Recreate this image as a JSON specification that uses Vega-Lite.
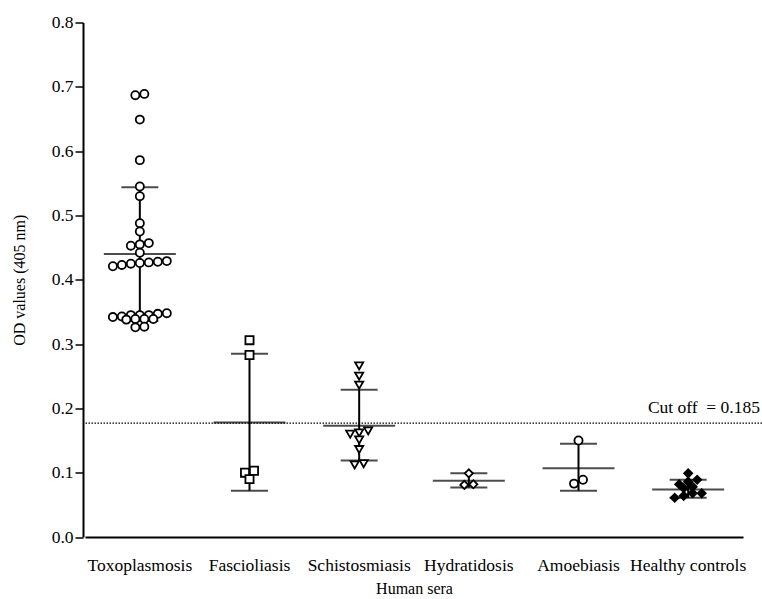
{
  "$schema": "https://vega.github.io/schema/vega-lite/v6.json",
  "width": 679,
  "height": 514.5,
  "autosize": {"type": "none"},
  "padding": {"left": 83, "top": 22.5, "right": 0, "bottom": 62},
  "background": "white",
  "config": {
    "view": {"stroke": null},
    "font": "Liberation Serif",
    "axis": {
      "grid": false,
      "domainColor": "black",
      "tickColor": "black",
      "labelColor": "black",
      "titleColor": "black",
      "labelFont": "Liberation Serif",
      "titleFont": "Liberation Serif",
      "titleFontWeight": "normal"
    }
  },
  "datasets": {
    "pts": [
      {"group": "Toxoplasmosis", "value": 0.687},
      {"group": "Toxoplasmosis", "value": 0.689},
      {"group": "Toxoplasmosis", "value": 0.649},
      {"group": "Toxoplasmosis", "value": 0.586},
      {"group": "Toxoplasmosis", "value": 0.545},
      {"group": "Toxoplasmosis", "value": 0.530},
      {"group": "Toxoplasmosis", "value": 0.488},
      {"group": "Toxoplasmosis", "value": 0.475},
      {"group": "Toxoplasmosis", "value": 0.457},
      {"group": "Toxoplasmosis", "value": 0.453},
      {"group": "Toxoplasmosis", "value": 0.455},
      {"group": "Toxoplasmosis", "value": 0.442},
      {"group": "Toxoplasmosis", "value": 0.428},
      {"group": "Toxoplasmosis", "value": 0.425},
      {"group": "Toxoplasmosis", "value": 0.421},
      {"group": "Toxoplasmosis", "value": 0.423},
      {"group": "Toxoplasmosis", "value": 0.426},
      {"group": "Toxoplasmosis", "value": 0.429},
      {"group": "Toxoplasmosis", "value": 0.427},
      {"group": "Toxoplasmosis", "value": 0.347},
      {"group": "Toxoplasmosis", "value": 0.343},
      {"group": "Toxoplasmosis", "value": 0.342},
      {"group": "Toxoplasmosis", "value": 0.345},
      {"group": "Toxoplasmosis", "value": 0.345},
      {"group": "Toxoplasmosis", "value": 0.345},
      {"group": "Toxoplasmosis", "value": 0.348},
      {"group": "Toxoplasmosis", "value": 0.339},
      {"group": "Toxoplasmosis", "value": 0.339},
      {"group": "Toxoplasmosis", "value": 0.338},
      {"group": "Toxoplasmosis", "value": 0.339},
      {"group": "Toxoplasmosis", "value": 0.327},
      {"group": "Toxoplasmosis", "value": 0.326},
      {"group": "Fascioliasis", "value": 0.306},
      {"group": "Fascioliasis", "value": 0.283},
      {"group": "Fascioliasis", "value": 0.103},
      {"group": "Fascioliasis", "value": 0.100},
      {"group": "Fascioliasis", "value": 0.090},
      {"group": "Schistosmiasis", "value": 0.266},
      {"group": "Schistosmiasis", "value": 0.250},
      {"group": "Schistosmiasis", "value": 0.236},
      {"group": "Schistosmiasis", "value": 0.165},
      {"group": "Schistosmiasis", "value": 0.162},
      {"group": "Schistosmiasis", "value": 0.160},
      {"group": "Schistosmiasis", "value": 0.151},
      {"group": "Schistosmiasis", "value": 0.136},
      {"group": "Schistosmiasis", "value": 0.114},
      {"group": "Schistosmiasis", "value": 0.112},
      {"group": "Hydratidosis", "value": 0.099},
      {"group": "Hydratidosis", "value": 0.082},
      {"group": "Hydratidosis", "value": 0.081},
      {"group": "Amoebiasis", "value": 0.150},
      {"group": "Amoebiasis", "value": 0.089},
      {"group": "Amoebiasis", "value": 0.083},
      {"group": "Healthy controls", "value": 0.099},
      {"group": "Healthy controls", "value": 0.086},
      {"group": "Healthy controls", "value": 0.078},
      {"group": "Healthy controls", "value": 0.082},
      {"group": "Healthy controls", "value": 0.089},
      {"group": "Healthy controls", "value": 0.076},
      {"group": "Healthy controls", "value": 0.068},
      {"group": "Healthy controls", "value": 0.068},
      {"group": "Healthy controls", "value": 0.064},
      {"group": "Healthy controls", "value": 0.061}
    ],
    "stats": [
      {"group": "Toxoplasmosis", "mean": 0.440, "lo": 0.336, "hi": 0.544},
      {"group": "Fascioliasis", "mean": 0.178, "lo": 0.072, "hi": 0.285},
      {"group": "Schistosmiasis", "mean": 0.173, "lo": 0.119, "hi": 0.229},
      {"group": "Hydratidosis", "mean": 0.0876, "lo": 0.077, "hi": 0.099},
      {"group": "Amoebiasis", "mean": 0.107, "lo": 0.072, "hi": 0.145},
      {"group": "Healthy controls", "mean": 0.074, "lo": 0.061, "hi": 0.089}
    ],
    "cut": [{"cutoff": 0.177, "label": "Cut off \u00a0= 0.185"}]
  },
  "layer": [
    {
      "data": {"name": "cut"},
      "mark": {"type": "rule", "strokeDash": [1.5, 1.5], "strokeWidth": 1.3, "color": "black"},
      "encoding": {
        "y": {"field": "cutoff", "type": "quantitative", "scale": {"domain": [0, 0.8]},
          "axis": {"values": [0, 0.1, 0.2, 0.3, 0.4, 0.5, 0.6, 0.7, 0.8], "format": ".1f", "labelFontSize": 17.5, "tickSize": 8, "tickWidth": 1.5, "domainWidth": 2, "labelPadding": 2, "title": "OD values (405 nm)", "titleFontSize": 16, "titlePadding": 24}}
      }
    },
    {
      "data": {"name": "cut"},
      "mark": {"type": "text", "align": "right", "baseline": "bottom", "dy": -6, "dx": -2, "fontSize": 17.5, "font": "Liberation Serif", "color": "black"},
      "encoding": {
        "y": {"field": "cutoff", "type": "quantitative"},
        "x": {"value": "width"},
        "text": {"field": "label"}
      }
    },
    {
      "data": {"name": "stats"},
      "mark": {"type": "rule", "strokeWidth": 2, "color": "black"},
      "encoding": {
        "x": {"field": "group", "type": "nominal",
          "scale": {"type": "band", "domain": ["Toxoplasmosis", "Fascioliasis", "Schistosmiasis", "Hydratidosis", "Amoebiasis", "Healthy controls"], "range": [2, 660], "paddingInner": 0, "paddingOuter": 0},
          "axis": {"ticks": false, "labelAngle": 0, "labelFontSize": 17.5, "labelPadding": 19, "domainWidth": 2, "title": "Human sera", "titleFontSize": 16, "titlePadding": 7}},
        "y": {"field": "lo", "type": "quantitative"},
        "y2": {"field": "hi"}
      }
    },
    {
      "data": {"name": "stats"},
      "mark": {"type": "tick", "size": 72, "thickness": 2, "color": "black"},
      "encoding": {
        "x": {"field": "group", "type": "nominal"},
        "y": {"field": "mean", "type": "quantitative"}
      }
    },
    {
      "data": {"name": "stats"},
      "mark": {"type": "tick", "size": 37, "thickness": 2, "color": "black"},
      "encoding": {
        "x": {"field": "group", "type": "nominal"},
        "y": {"field": "lo", "type": "quantitative"}
      }
    },
    {
      "data": {"name": "stats"},
      "mark": {"type": "tick", "size": 37, "thickness": 2, "color": "black"},
      "encoding": {
        "x": {"field": "group", "type": "nominal"},
        "y": {"field": "hi", "type": "quantitative"}
      }
    },
    {
      "data": {"name": "pts"},
      "transform": [
        {"bin": {"step": 0.01, "extent": [0, 0.8]}, "field": "value", "as": "vbin"},
        {"window": [{"op": "row_number", "as": "rk"}, {"op": "count", "as": "n"}], "groupby": ["group", "vbin"], "sort": [{"field": "value"}], "frame": [null, null]},
        {"calculate": "datum.rk - (datum.n + 1) / 2", "as": "off"}
      ],
      "mark": {"type": "point", "filled": false, "strokeWidth": 1.8, "size": 66, "opacity": 1},
      "encoding": {
        "x": {"field": "group", "type": "nominal"},
        "xOffset": {"field": "off", "type": "quantitative", "scale": {"domain": [-6.1, 6.1]}},
        "y": {"field": "value", "type": "quantitative"},
        "shape": {"field": "group", "type": "nominal", "legend": null,
          "scale": {"domain": ["Toxoplasmosis", "Fascioliasis", "Schistosmiasis", "Hydratidosis", "Amoebiasis", "Healthy controls"], "range": ["circle", "square", "triangle-down", "diamond", "circle", "diamond"]}},
        "fill": {"field": "group", "type": "nominal", "legend": null,
          "scale": {"domain": ["Toxoplasmosis", "Fascioliasis", "Schistosmiasis", "Hydratidosis", "Amoebiasis", "Healthy controls"], "range": ["white", "white", "white", "white", "white", "black"]}},
        "stroke": {"value": "black"}
      }
    }
  ]
}
